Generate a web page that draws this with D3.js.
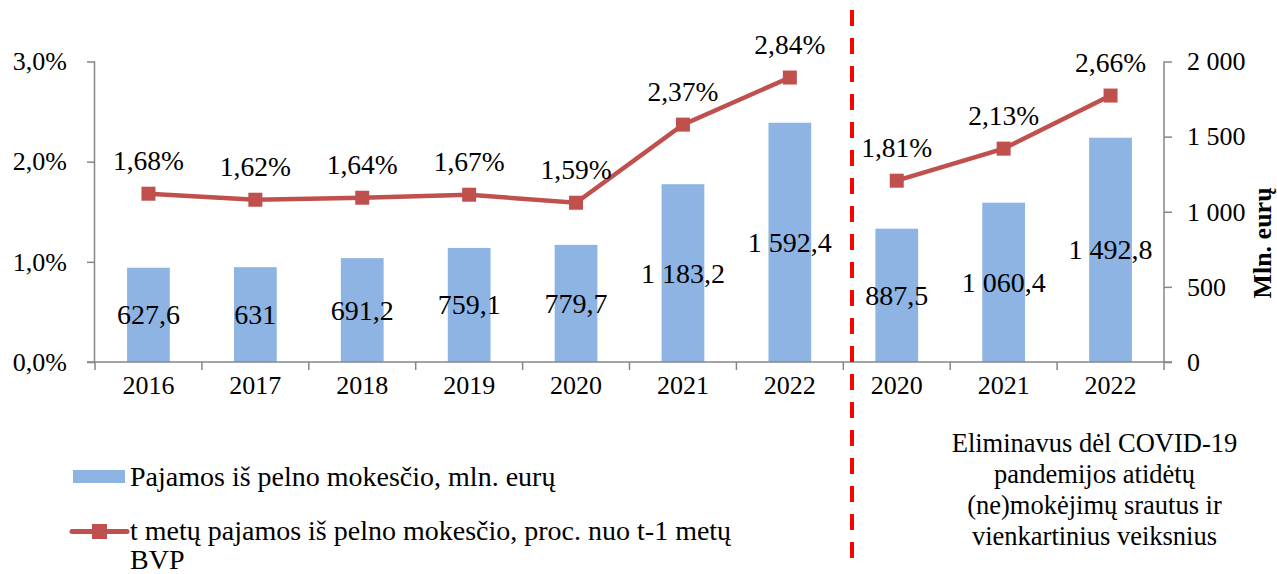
<!DOCTYPE html>
<html><head><meta charset="utf-8">
<script src="https://cdn.jsdelivr.net/npm/d3@7"></script>
<style>html,body{margin:0;padding:0;background:#fff;}svg{display:block;}</style>
</head><body>
<script>
const categories = ["2016","2017","2018","2019","2020","2021","2022","2020","2021","2022"];
const revenue = [627.6, 631, 691.2, 759.1, 779.7, 1183.2, 1592.4, 887.5, 1060.4, 1492.8];
const sharePct = [1.68, 1.62, 1.64, 1.67, 1.59, 2.37, 2.84, 1.81, 2.13, 2.66];
const lineGroups = [[0,1,2,3,4,5,6],[7,8,9]];
const leftTicks = [0, 1, 2, 3];
const rightTicks = [0, 500, 1000, 1500, 2000];
const legendBar = "Pajamos iš pelno mokesčio, mln. eurų";
const legendLine = ["t metų pajamos iš pelno mokesčio, proc. nuo t-1 metų", "BVP"];
const rightTitle = "Mln. eurų";
const note = ["Eliminavus dėl COVID-19", "pandemijos atidėtų", "(ne)mokėjimų srautus ir", "vienkartinius veiksnius"];

const W = 1277, H = 574;
const FONT = "'Liberation Serif','Times New Roman',serif";
const loc = d3.formatLocale({decimal: ",", thousands: " ", grouping: [3], currency: ["", ""]});
const fmtRev = loc.format(",.1~f");
const fmtPct = d => loc.format(".2f")(d) + "%";
const fmtLeft = d => loc.format(".1f")(d) + "%";
const fmtRight = loc.format(",");

const svg = d3.select("body").append("svg").attr("width", W).attr("height", H)
  .attr("font-family", FONT);

const x0 = 95, x1 = 1164, yTop = 61.5, yBot = 362;
const idx = categories.map((d, i) => i);
const x = d3.scaleBand().domain(idx).range([x0, x1]).paddingInner(0.6).paddingOuter(0.3);
const xb = d3.scaleBand().domain(idx).range([x0, x1]);
const yL = d3.scaleLinear().domain([0, 3]).range([yBot, yTop]);
const yR = d3.scaleLinear().domain([0, 2000]).range([yBot, yTop]);
const axisColor = "#868686";
const barColor = "#8EB4E3";
const lineColor = "#C0504D";

// bars
svg.append("g").selectAll("rect").data(revenue).join("rect")
  .attr("x", (d, i) => x(i)).attr("width", x.bandwidth())
  .attr("y", d => yR(d)).attr("height", d => yBot - yR(d))
  .attr("fill", barColor);

// left axis
const gL = svg.append("g").attr("transform", `translate(${x0},0)`)
  .call(d3.axisLeft(yL).tickValues(leftTicks).tickFormat(fmtLeft).tickSize(8).tickPadding(20));
// right axis
const gR = svg.append("g").attr("transform", `translate(${x1},0)`)
  .call(d3.axisRight(yR).tickValues(rightTicks).tickFormat(fmtRight).tickSize(8).tickPadding(15));
// bottom axis with ticks at band boundaries
const gB = svg.append("g").attr("transform", `translate(0,${yBot})`)
  .call(d3.axisBottom(xb).tickFormat(i => categories[i]).tickSize(0).tickPadding(14));
gB.selectAll(".tick line").remove();
const bounds = d3.range(categories.length + 1).map(i => i === categories.length ? x1 : xb(i));
gB.selectAll(".bt").data(bounds).join("line").attr("class", "bt")
  .attr("x1", d => d).attr("x2", d => d).attr("y1", 0).attr("y2", 8)
  .attr("stroke", axisColor).attr("stroke-width", 1.5);
[gL, gR, gB].forEach(g => {
  g.attr("font-family", FONT);
  g.select(".domain").attr("stroke", axisColor).attr("stroke-width", 1.5);
  g.selectAll(".tick line").attr("stroke", axisColor).attr("stroke-width", 1.5);
  g.selectAll("text").attr("font-size", 26).attr("font-family", FONT).attr("fill", "#000");
});
gL.select(".domain").attr("d", `M-0.5,${yTop}V${yBot}`);
gR.select(".domain").attr("d", `M0,${yTop}V${yBot}`);
gB.select(".domain").attr("d", `M${x0 - 8},0H${x1 + 8}`);
gB.selectAll(".tick text").attr("dy", "0.71em");

// right axis title
svg.append("text").attr("transform", `translate(1262,243) rotate(-90)`)
  .attr("text-anchor", "middle").attr("dominant-baseline", "central")
  .attr("font-size", 26).attr("font-weight", "bold").text(rightTitle);

// bar labels
svg.append("g").selectAll("text").data(revenue).join("text")
  .attr("x", (d, i) => x(i) + x.bandwidth() / 2)
  .attr("y", d => (yR(d) + yBot) / 2)
  .attr("text-anchor", "middle").attr("dominant-baseline", "central")
  .attr("font-size", 28).text(d => fmtRev(d));

// line segments
const cx = i => x(i) + x.bandwidth() / 2;
const line = d3.line().x(i => cx(i)).y(i => yL(sharePct[i]));
svg.append("g").selectAll("path").data(lineGroups).join("path")
  .attr("d", line).attr("fill", "none").attr("stroke", lineColor).attr("stroke-width", 4.5);
svg.append("g").selectAll("rect").data(sharePct).join("rect")
  .attr("x", (d, i) => cx(i) - 7).attr("y", d => yL(d) - 7)
  .attr("width", 14).attr("height", 14).attr("fill", lineColor);
svg.append("g").selectAll("text").data(sharePct).join("text")
  .attr("x", (d, i) => cx(i)).attr("y", d => yL(d) - 33)
  .attr("text-anchor", "middle").attr("dominant-baseline", "central")
  .attr("font-size", 27.5).text(d => fmtPct(d));

// red dashed separator
svg.append("line").attr("x1", 852).attr("x2", 852).attr("y1", 10).attr("y2", 560)
  .attr("stroke", "#FF0000").attr("stroke-width", 4).attr("stroke-dasharray", "16,12");

// legend
const lg = svg.append("g");
lg.append("rect").attr("x", 73).attr("y", 470).attr("width", 52).attr("height", 13).attr("fill", barColor);
lg.append("text").attr("x", 130).attr("y", 486)
  .attr("font-size", 28).text(legendBar);
lg.append("line").attr("x1", 72).attr("x2", 127).attr("y1", 531.5).attr("y2", 531.5)
  .attr("stroke", lineColor).attr("stroke-width", 5).attr("stroke-linecap", "round");
lg.append("rect").attr("x", 92).attr("y", 524).attr("width", 15).attr("height", 15).attr("fill", lineColor);
lg.selectAll(".ll").data(legendLine).join("text").attr("class", "ll")
  .attr("x", 130).attr("y", (d, i) => 540 + i * 28.5)
  .attr("font-size", 28).text(d => d);

// note
svg.append("g").selectAll("text").data(note).join("text")
  .attr("x", 1094.5).attr("y", (d, i) => 452 + i * 31)
  .attr("text-anchor", "middle")
  .attr("font-size", 26.5).text(d => d);
</script>
</body></html>
